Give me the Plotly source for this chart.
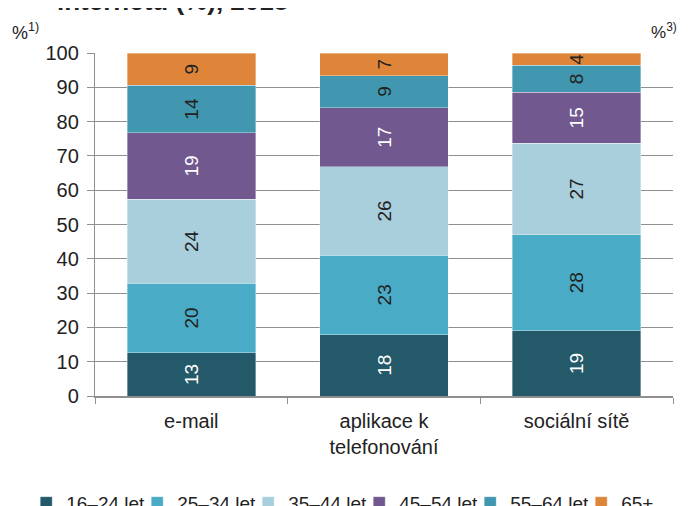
import plotly.graph_objects as go

categories = ["e-mail", "aplikace k<br>telefonování", "sociální sítě"]
groups = ["16–24 let", "25–34 let", "35–44 let", "45–54 let", "55–64 let", "65+"]
v_16_24 = [12.6, 17.9, 19.0]
v_25_34 = [20.3, 23.2, 28.0]
v_35_44 = [24.4, 25.7, 26.7]
v_45_54 = [19.5, 17.3, 14.8]
v_55_64 = [13.8, 9.3, 7.9]
v_65p = [9.4, 6.6, 3.6]
labels_16_24 = [13, 18, 19]
labels_25_34 = [20, 23, 28]
labels_35_44 = [24, 26, 27]
labels_45_54 = [19, 17, 15]
labels_55_64 = [14, 9, 8]
labels_65p = [9, 7, 4]

series = [v_16_24, v_25_34, v_35_44, v_45_54, v_55_64, v_65p]
labels = [labels_16_24, labels_25_34, labels_35_44, labels_45_54, labels_55_64, labels_65p]
colors = ["#235968", "#4AABC6", "#A9CEDC", "#71588F", "#4197AF", "#DF8539"]
text_colors = ["#ffffff", "#222222", "#222222", "#ffffff", "#222222", "#222222"]

FONT = "Liberation Sans, Arial, sans-serif"

fig = go.Figure()
for name, vals, labs, col, tcol in zip(groups, series, labels, colors, text_colors):
    fig.add_trace(go.Bar(
        x=categories, y=vals, name=name,
        marker=dict(color=col, line=dict(color="rgba(255,255,255,0.45)", width=0.8)),
        text=[str(l) for l in labs],
        textposition="inside", insidetextanchor="middle",
        textangle=-90, constraintext="none",
        textfont=dict(family=FONT, size=19, color=tcol),
        hoverinfo="skip",
    ))

fig.update_layout(
    barmode="stack", bargap=0.333,
    width=688, height=506,
    margin=dict(l=87, r=23, t=45, b=118, autoexpand=False),
    plot_bgcolor="white", paper_bgcolor="white",
    font=dict(family=FONT, size=20, color="#222222"),
    showlegend=True,
    legend=dict(orientation="h", x=-0.119, xanchor="left", y=-0.256, yanchor="top",
                font=dict(family=FONT, size=19, color="#222222"),
                entrywidth=66, entrywidthmode="pixels", itemwidth=30,
                traceorder="normal"),
)
fig.update_yaxes(range=[0, 100], dtick=10, showgrid=True, gridcolor="#8f8f8f", gridwidth=1.3,
                 showline=True, linecolor="#8f8f8f", linewidth=1.3,
                 ticks="outside", ticklen=7, tickcolor="#8f8f8f", tickwidth=1.3,
                 ticklabelstandoff=4,
                 tickfont=dict(family=FONT, size=20, color="#222222"), zeroline=False)
fig.update_xaxes(showline=True, linecolor="#8f8f8f", linewidth=1.5,
                 ticks="outside", ticklen=6, tickcolor="#8f8f8f", tickwidth=1.3,
                 tickson="boundaries", ticklabelstandoff=6,
                 tickfont=dict(family=FONT, size=20, color="#222222"))

fig.add_annotation(text="%<sup>1)</sup>", xref="paper", yref="paper", x=-0.147, y=1.064,
                   xanchor="left", yanchor="middle", showarrow=False,
                   font=dict(family=FONT, size=18, color="#222222"))
fig.add_annotation(text="%<sup>3)</sup>", xref="paper", yref="paper", x=1.010, y=1.064,
                   xanchor="right", yanchor="middle", showarrow=False,
                   font=dict(family=FONT, size=17, color="#222222"))
fig.add_annotation(text="<b>internetu (%), 2018</b>", xref="paper", yref="paper", x=-0.069, y=1.103,
                   xanchor="left", yanchor="bottom", showarrow=False,
                   font=dict(family=FONT, size=26, color="#222222"))

fig.write_html("out.html")
